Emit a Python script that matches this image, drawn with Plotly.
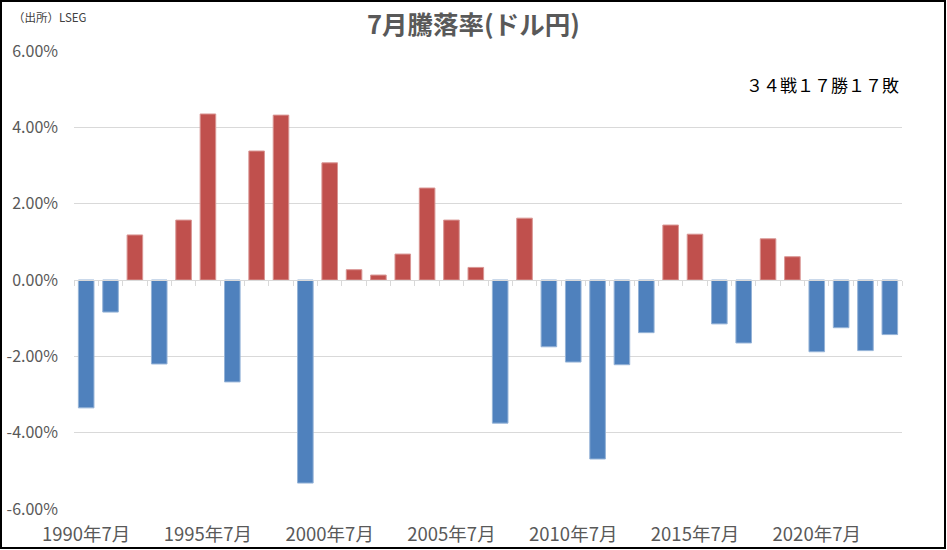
import plotly.graph_objects as go

years = list(range(1990, 2024))
categories = [f"{y}年7月" for y in years]
returns_pct = [
    -3.35, -0.84, 1.18, -2.20, 1.57, 4.35, -2.67, 3.38, 4.32, -5.32,
    3.07, 0.27, 0.13, 0.68, 2.41, 1.57, 0.33, -3.75, 1.62, -1.75,
    -2.15, -4.69, -2.22, -1.38, 1.44, 1.20, -1.15, -1.65, 1.08, 0.61,
    -1.88, -1.25, -1.85, -1.43,
]
y_ticks = [-6, -4, -2, 0, 2, 4, 6]
y_ticktext = [f"{v:.2f}%" for v in y_ticks]
x_tickvals = categories[::5]

title_text = "7月騰落率(ドル円)"
source_text = "（出所）LSEG"
record_text = "３４戦１７勝１７敗"

UP = "#C0504D"
DOWN = "#4F81BD"
colors = [UP if v >= 0 else DOWN for v in returns_pct]
line_colors = ["#D99694" if v >= 0 else "#95B3D7" for v in returns_pct]

W, H = 947, 550
ML, MR, MT, MB = 74, 45, 51, 41
PW, PH = W - ML - MR, H - MT - MB

FONT = "Noto Sans CJK JP"
x_range = [-0.5, len(categories) - 0.5]

fig = go.Figure()
fig.add_trace(go.Bar(
    x=categories, y=returns_pct,
    marker=dict(color=colors, line=dict(color=line_colors, width=1)),
    hoverinfo="x+y", showlegend=False,
))
# invisible trace for the zero-line axis carrying boundary ticks
fig.add_trace(go.Scatter(
    x=categories, y=returns_pct, xaxis="x2", mode="markers",
    marker=dict(opacity=0), hoverinfo="skip", showlegend=False,
))

fig.update_layout(
    width=W, height=H,
    margin=dict(l=ML, r=MR, t=MT, b=MB, autoexpand=False),
    paper_bgcolor="white", plot_bgcolor="white",
    bargap=0.36,
    font=dict(family=FONT, color="#595959", size=14),
    title=dict(text=f"<b>{title_text}</b>", x=0.5, xref="container", xanchor="center",
               y=1 - 25 / H, yanchor="middle",
               font=dict(size=25.5, color="#595959", family=FONT)),
    xaxis=dict(
        type="category", categoryorder="array", categoryarray=categories,
        range=x_range, autorange=False, automargin=False,
        tickvals=x_tickvals, ticktext=x_tickvals,
        showgrid=False, showline=False, zeroline=False, ticks="",
        tickfont=dict(size=18.5, color="#595959"),
        ticklabelstandoff=12,
    ),
    xaxis2=dict(
        type="category", overlaying="x", matches="x", anchor="free", position=0.5,
        side="bottom", showline=True, linecolor="#D9D9D9", linewidth=1,
        ticks="outside", tickson="boundaries", ticklen=5, tickcolor="#D9D9D9",
        showticklabels=False, showgrid=False, zeroline=False, automargin=False,
    ),
    yaxis=dict(
        range=[-6, 6], tickvals=y_ticks, ticktext=y_ticktext, automargin=False,
        showgrid=True, gridcolor="#D9D9D9", gridwidth=1,
        zeroline=False, showline=False, ticks="",
        tickfont=dict(size=16, color="#595959"),
        ticklabelstandoff=15,
    ),
    annotations=[
        dict(text=source_text, xref="paper", yref="paper",
             x=(11 - ML) / PW, y=(H - MB - 17) / PH, xanchor="left", yanchor="middle",
             showarrow=False, font=dict(size=11.5, color="#404040", family=FONT)),
        dict(text=record_text, xref="paper", yref="paper",
             x=(901 - ML) / PW, y=(H - MB - 84) / PH, xanchor="right", yanchor="middle",
             showarrow=False, font=dict(size=17, color="#000000", family=FONT)),
    ],
    shapes=[
        dict(type="rect", xref="paper", yref="paper",
             x0=(1 - ML) / PW, x1=(945 - ML) / PW,
             y0=(H - MB - 548) / PH, y1=(H - MB - 1) / PH,
             line=dict(color="black", width=2), fillcolor="rgba(0,0,0,0)", layer="above"),
    ],
)

fig.write_html("out.html")
